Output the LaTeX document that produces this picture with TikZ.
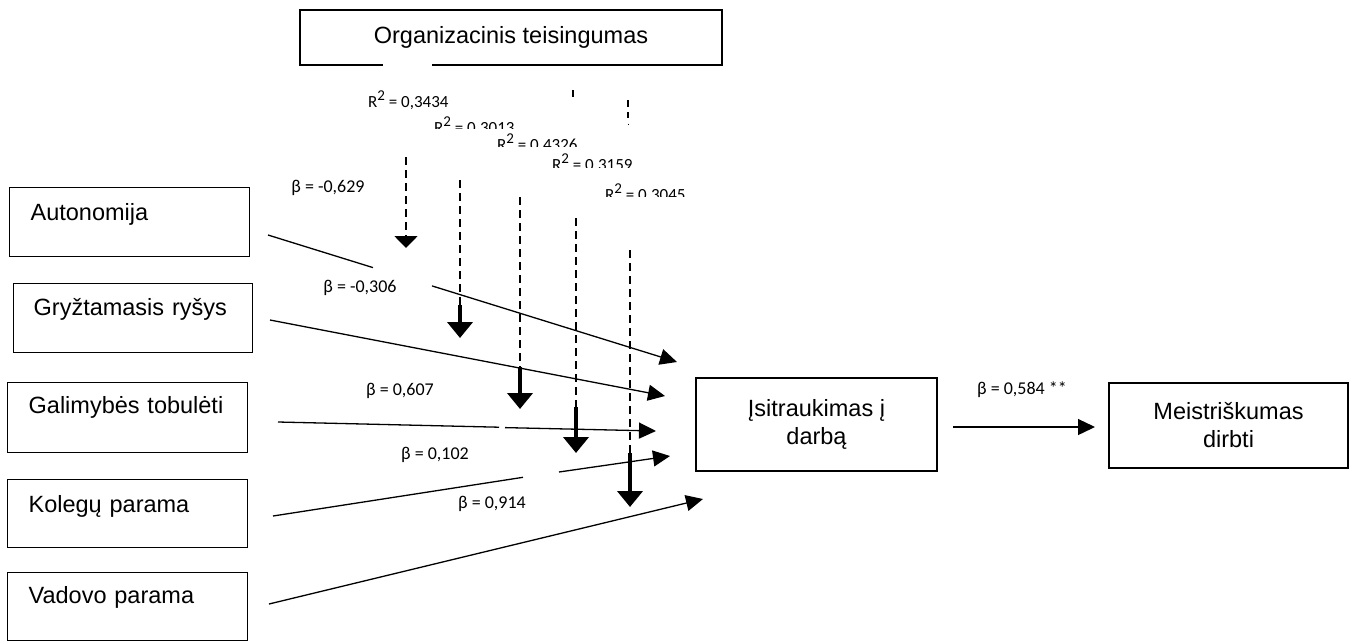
\documentclass[tikz,border=0pt]{standalone}
\usepackage{fontspec}
\setmainfont{Liberation Sans}
\newfontfamily\calfont{Carlito}
\usetikzlibrary{arrows.meta}
\newcommand{\Rsqlabel}[1]{R\raisebox{7pt}{\fontsize{15}{15}\selectfont 2} = #1}
\begin{document}
\begin{tikzpicture}[x=1pt,y=-1pt,
  box/.style={draw, line width=1.3pt, inner sep=0pt, font=\fontsize{23.5}{28}\selectfont},
  lbox/.style={box, anchor=north west, align=left},
  cbox/.style={box, align=center},
  betalab/.style={font=\calfont\fontsize{18}{18}\selectfont, inner sep=0pt},
  rsq/.style={font=\calfont\fontsize{17}{17}\selectfont, inner sep=0pt, anchor=base west},
  link/.style={line width=1.3pt, -{Triangle[length=17pt,width=16pt]}},
  seg/.style={line width=1.3pt},
  modline/.style={line width=1.8pt, dash pattern=on 8pt off 5pt},
  stub/.style={line width=1.8pt},
  thickarr/.style={line width=4pt, -{Triangle[length=16pt,width=25pt]}},
  smallarr/.style={line width=1.8pt, -{Triangle[length=12pt,width=23pt]}},
]
\useasboundingbox (0,0) rectangle (1351,641);

% boxes
\node[cbox, minimum width=422pt, minimum height=55pt] (org) at (511,37.5) {Organizacinis teisingumas};
\draw[white, line width=2.5pt] (383,65) -- (432,65);
\node[lbox, text width=240pt, text height=33pt, text depth=36pt] (auto) at (9,187) {\hspace*{21pt}Autonomija};
\node[lbox, text width=239pt, text height=32pt, text depth=37pt] (gryz) at (13,283) {\hspace*{20pt}Gryžtamasis ryšys};
\node[lbox, text width=240pt, text height=31pt, text depth=39pt] (gal) at (7,382) {\hspace*{21pt}Galimybės tobulėti};
\node[lbox, text width=240pt, text height=33pt, text depth=35pt] (kol) at (7,479) {\hspace*{21pt}Kolegų parama};
\node[lbox, text width=240pt, text height=31pt, text depth=37pt] (vad) at (7,572) {\hspace*{21pt}Vadovo parama};
\node[cbox, minimum width=241pt, minimum height=93pt] (eng) at (816.5,424.5) {Įsitraukimas į\\darbą};
\node[cbox, minimum width=239pt, minimum height=85pt] (mast) at (1228.5,425.5) {Meistriškumas\\dirbti};

% coordinates of connectors
\coordinate (a0) at (268,235);   \coordinate (a1) at (373,267.6);
\coordinate (a2) at (432,285.9); \coordinate (a3) at (677,362);
\coordinate (g0) at (270,320);   \coordinate (g1) at (665,396);
\coordinate (t0) at (278,422);   \coordinate (t1) at (499,427.2);
\coordinate (t2) at (505,427.6); \coordinate (t3) at (656,431);
\coordinate (k0) at (273,516);   \coordinate (k1) at (523,477.3);
\coordinate (k2) at (559,472);   \coordinate (k3) at (670,456);
\coordinate (v0) at (269,604);   \coordinate (v1) at (703,499);
\coordinate (e1) at (953,427);   \coordinate (e2) at (1095,427);

% beta connectors
\draw[seg] (a0) -- (a1);
\draw[link] (a2) -- (a3);
\draw[link] (g0) -- (g1);
\draw[seg] (t0) -- (t1);
\draw[link] (t2) -- (t3);
\draw[seg] (k0) -- (k1);
\draw[link] (k2) -- (k3);
\draw[link] (v0) -- (v1);
\draw[link] (e1) -- (e2);

% moderation arrows
\coordinate (A0) at (406,157); \coordinate (A1) at (406,236); \coordinate (A2) at (406,248);
\coordinate (B0) at (460,180); \coordinate (B1) at (460,305); \coordinate (B2) at (460,338);
\coordinate (C0) at (520,197); \coordinate (C1) at (520,367); \coordinate (C2) at (520,409);
\coordinate (D0) at (576,218); \coordinate (D1) at (576,407); \coordinate (D2) at (576,453);
\coordinate (E0) at (630,250); \coordinate (E1) at (630,453); \coordinate (E2) at (630,507);
\draw[modline] (A0) -- (A1); \draw[smallarr] (A1) -- (A2);
\draw[modline] (B0) -- (B1); \draw[thickarr] (B1) -- (B2);
\draw[modline] (C0) -- (C1); \draw[thickarr] (C1) -- (C2);
\draw[modline] (D0) -- (D1); \draw[thickarr] (D1) -- (D2);
\draw[modline] (E0) -- (E1); \draw[thickarr] (E1) -- (E2);
\coordinate (Ds0) at (573,90); \coordinate (Ds1) at (573,97);
\draw[stub] (Ds0) -- (Ds1);
\coordinate (Es0) at (628,100); \coordinate (Es1) at (628,107);
\coordinate (Es2) at (628,112); \coordinate (Es3) at (628,118);
\coordinate (Es4) at (628,123.5); \coordinate (Es5) at (628,125);
\draw[stub] (Es0) -- (Es1);
\draw[stub] (Es2) -- (Es3);
\draw[line width=1pt] (Es4) -- (Es5);

% beta labels
\node[betalab] (b1) at (328,188) {β = -0,629};
\node[betalab] (b2) at (360,288) {β = -0,306};
\node[betalab] (b3) at (400,391) {β = 0,607};
\node[betalab] (b4) at (435,455) {β = 0,102};
\node[betalab] (b5) at (492,504) {β = 0,914};
\node[betalab] (b6) at (1022,390) {β = 0,584 **};

% R2 labels (partly hidden)
\node[rsq] (r1) at (368,107.5) {\Rsqlabel{0,3434}};
\begin{scope}
\clip (430,100) rectangle (530,128.5);
\node[rsq] (r2) at (434,133.8) {\Rsqlabel{0,3013}};
\end{scope}
\begin{scope}
\clip (490,120) rectangle (590,146.7);
\node[rsq] (r3) at (497,150.8) {\Rsqlabel{0,4326}};
\end{scope}
\begin{scope}
\clip (545,140) rectangle (650,167.3);
\node[rsq] (r4) at (552,170.8) {\Rsqlabel{0,3159}};
\end{scope}
\begin{scope}
\clip (600,170) rectangle (700,196.7);
\node[rsq] (r5) at (605,200.8) {\Rsqlabel{0,3045}};
\end{scope}
\end{tikzpicture}
\end{document}
